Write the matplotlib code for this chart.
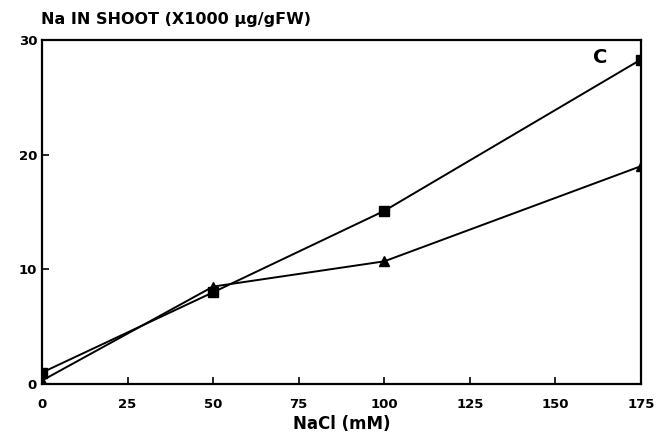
import matplotlib
matplotlib.use("Agg")
import matplotlib.pyplot as plt

nacl = [0, 50, 100, 175]
na_square = [1.0, 8.0, 15.1, 28.3]
na_triangle = [0.3, 8.5, 10.7, 19.0]
xticks = [0, 25, 50, 75, 100, 125, 150, 175]
yticks = [0, 10, 20, 30]

fig = plt.figure(figsize=(6.56, 4.45), dpi=100)
ax = fig.add_axes([0.064, 0.137, 0.913, 0.773])

ax.plot(nacl, na_square, color="black", lw=1.4, marker="s", ms=7, zorder=3)
ax.plot(nacl, na_triangle, color="black", lw=1.4, marker="^", ms=7, zorder=3)

ax.set_xlim(0, 175)
ax.set_ylim(0, 30)
ax.set_xticks(xticks)
ax.set_yticks(yticks)
ax.tick_params(direction="in", length=5, width=1.2, labelsize=9.5)
for lab in ax.get_xticklabels() + ax.get_yticklabels():
    lab.set_fontweight("heavy")
ax.tick_params(axis="x", pad=10)
for s in ax.spines.values():
    s.set_linewidth(1.6)

ax.set_xlabel("NaCl (mM)", fontsize=12, fontweight="heavy", labelpad=3)
fig.text(0.062, 0.94, "Na IN SHOOT (X1000 µg/gFW)", fontsize=11.5, fontweight="heavy",
         ha="left", va="bottom")
ax.text(0.932, 0.95, "C", transform=ax.transAxes, fontsize=14, fontweight="heavy",
        ha="center", va="center")

fig.savefig("out.png", dpi=100)
